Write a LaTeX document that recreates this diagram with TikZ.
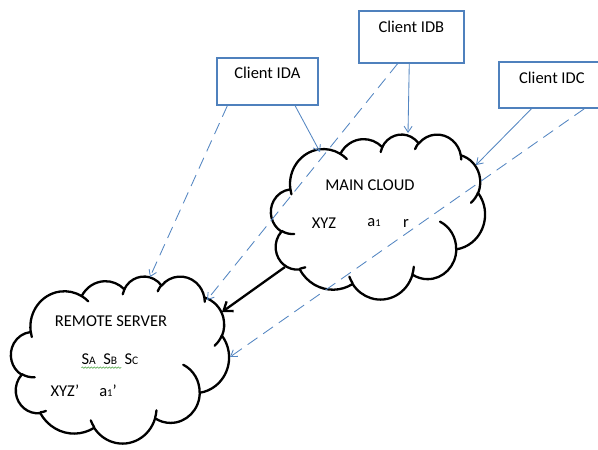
\documentclass[tikz,border=0pt]{standalone}
\usepackage{fontspec}
\setmainfont{Carlito}
\usetikzlibrary{arrows.meta,decorations.pathmorphing,calc}

\definecolor{boxblue}{RGB}{79,129,189}
\definecolor{lineblue}{RGB}{84,134,194}
\definecolor{spellgreen}{RGB}{70,160,60}

% Office-style arc: radii plus start angle and sweep given as visual angles;
% converts them to the parametric angles TikZ uses for an ellipse.
\newcommand\cldcalc[4]{%
  \pgfmathsetmacro\cldS{atan2((#1)*sin(#3),(#2)*cos(#3))}%
  \pgfmathsetmacro\cldS{\cldS+360*round(((#3)-(\cldS))/360)}%
  \pgfmathsetmacro\cldE{atan2((#1)*sin((#3)+(#4)),(#2)*cos((#3)+(#4)))}%
  \pgfmathsetmacro\cldE{\cldE+360*round(((#3)+(#4)-(\cldE))/360)}%
}
\newcommand\carc[4]{\pgfextra{\cldcalc{#1}{#2}{#3}{#4}} arc[start angle=\cldS, end angle=\cldE, x radius=#1, y radius=#2]}

% cloud outline in a 432 x 432 frame, y pointing down
\newcommand\puffycloud{%
  \path[cloudline] (39.00,143.70)
    \carc{67.53}{91.90}{-190.4875}{123.7805}
    \carc{53.33}{72.67}{-144.1024}{89.9452}
    \carc{43.65}{59.45}{-145.8079}{99.7230}
    \carc{48.57}{65.95}{-130.9861}{117.2417}
    \carc{53.33}{72.73}{-78.7089}{109.0269}
    \carc{67.75}{92.20}{-46.2673}{130.2690}
    \carc{57.85}{78.67}{0.6250}{114.0333}
    \carc{67.52}{92.15}{22.4516}{115.1726}
    \carc{77.20}{105.43}{66.2426}{75.7110}
    \carc{43.60}{59.18}{-274.9421}{146.7356}
    \carc{43.45}{59.45}{-246.8285}{152.5189}
    -- cycle;
  \path[cloudmark]
    (46.93,261.77) \carc{43.45}{59.45}{86.7420}{26.4295}
    (69.28,348.99) \carc{43.60}{59.18}{73.6105}{11.4475}
    (164.78,390.90) \carc{67.52}{92.15}{137.6242}{14.0811}
    (288.27,347.51) \carc{67.52}{92.15}{6.4533}{15.9984}
    (341.29,229.54) \carc{57.85}{78.67}{-70.2924}{70.9174}
    (417.98,153.54) \carc{53.33}{72.73}{30.3180}{27.7515}
    (383.24,54.26) \carc{48.57}{65.95}{-13.7443}{14.8589}
    (290.78,39.52) \carc{48.57}{65.95}{-149.1815}{18.1954}
    (221.41,47.20) \carc{43.65}{59.45}{-163.4943}{17.6864}
    (140.00,51.92) \carc{67.53}{91.90}{-66.7070}{12.3194}
    (41.27,157.89) \carc{67.53}{91.90}{157.6544}{11.8582};
}

\begin{document}
\begin{tikzpicture}[x=1pt, y=-1pt,
  cloudline/.style={draw=black, line width=2.3pt, fill=white, line join=round},
  cloudmark/.style={draw=black, line width=2.3pt, line cap=round},
  clientbox/.style={draw=boxblue, line width=1.8pt, fill=white, inner sep=0pt,
    anchor=north west, font=\fontsize{16.5}{19}\selectfont},
  cloudtext/.style={inner sep=0pt, font=\fontsize{16.5}{19}\selectfont},
  link/.style={draw=lineblue, line width=0.85pt, -{Straight Barb[length=6pt,width=8pt]}},
  dashlink/.style={link, dash pattern=on 12pt off 7pt},
  push/.style={draw=black, line width=2.3pt, -{Straight Barb[length=8pt,width=12pt]}}]

\useasboundingbox (0,0) rectangle (598,450);
\fill[white] (0,0) rectangle (598,450);

% the two clouds
\begin{scope}[shift={(271,134)}, xscale=214/432, yscale=165/432]
  \puffycloud
\end{scope}
\begin{scope}[shift={(11,276)}, xscale=218/432, yscale=167/432]
  \puffycloud
\end{scope}

% cloud contents
\node[cloudtext] (mainTitle) at (370,185) {MAIN CLOUD};
\node[cloudtext] (mainXYZ) at (324,223) {XYZ};
\node[cloudtext] (mainA) at (374,223) {a{\fontsize{10.5}{10}\selectfont 1}};
\node[cloudtext] (mainR) at (406,223) {r};

\node[cloudtext] (remTitle) at (111,321) {REMOTE SERVER};
\node[cloudtext] (remKeys) at (110,359)
  {S{\fontsize{11.5}{11}\selectfont A}\ \ S{\fontsize{11.5}{11}\selectfont B}\ \ S{\fontsize{11.5}{11}\selectfont C}};
\node[cloudtext] (remXYZ) at (65,391) {XYZ’};
\node[cloudtext] (remA) at (108,391) {a{\fontsize{10.5}{10}\selectfont 1}’};
\draw[spellgreen, line width=0.6pt, decorate,
  decoration={snake, amplitude=0.7pt, segment length=3pt}]
  ($(remKeys.south west)+(0,3)$) -- ($(remKeys.south west)+(40,3)$);

% client boxes
\node[clientbox, minimum width=101pt, minimum height=47pt, text height=21pt, text depth=26pt]
  (ida) at (216,57) {Client IDA};
\node[clientbox, minimum width=105pt, minimum height=52pt, text height=22pt, text depth=30pt]
  (idb) at (358,10) {Client IDB};
\node[clientbox, minimum width=106pt, minimum height=46pt, text height=22pt, text depth=24pt]
  (idc) at (498,61) {Client IDC};

% connector ends on the cloud outlines
\coordinate (mainFromA) at (320,152);
\coordinate (mainFromB) at (408,133);
\coordinate (mainFromC) at (476,165);
\coordinate (mainOut) at (285,267);
\coordinate (remFromA) at (150,277);
\coordinate (remFromB) at (207,300);
\coordinate (remFromC) at (230,357);
\coordinate (remIn) at (222,312);

% client links
\draw[dashlink] ($(ida.south west)!0.11!(ida.south east)$) -- (remFromA);
\draw[link] ($(ida.south west)!0.77!(ida.south east)$) -- (mainFromA);
\draw[dashlink] ($(idb.south west)!0.37!(idb.south east)$) -- (remFromB);
\draw[link] ($(idb.south west)!0.48!(idb.south east)$) -- (mainFromB);
\draw[link] ($(idc.south west)!0.31!(idc.south east)$) -- (mainFromC);
\draw[dashlink] ($(idc.south west)!0.80!(idc.south east)$) -- (remFromC);

% main cloud to remote server
\draw[push] (mainOut) -- (remIn);
\end{tikzpicture}
\end{document}
